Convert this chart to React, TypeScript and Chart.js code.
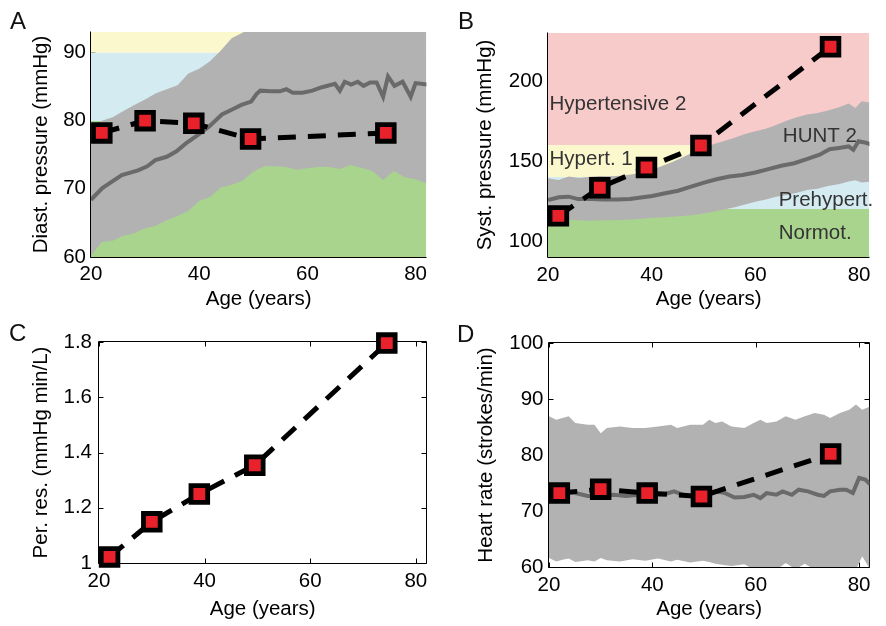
import React, { useEffect, useRef } from 'react';
import { Chart, registerables } from 'chart.js';

Chart.register(...registerables);

const FONT = "'Liberation Sans', Arial, Helvetica, sans-serif";
Chart.defaults.font.family = FONT;
Chart.defaults.font.size = 20.5;
Chart.defaults.color = '#000';

// ---------- data ----------
const groupAges = [22, 30, 39, 49.5, 74.5];
const diastolicModel = [78.2, 80.0, 79.6, 77.3, 78.2];
const systolicModel = [115.7, 133.3, 145.9, 159.7, 221.4];
const resistanceModel = [1.022, 1.149, 1.25, 1.354, 1.796];
const heartRateModel = [73.2, 73.9, 73.2, 72.6, 80.2];

const ageRange = [20, 82];
const diastolicZones = [60, 80, 90, 100];
const systolicZones = [90, 120, 140, 160, 240];

// HUNT 2 diastolic
const huntDiaMeanAges = [20, 22.1, 23.6, 25.7, 28.7, 30.4, 31.9, 34.0, 35.8, 37.6, 39.4, 41.8, 44.2, 46.0, 47.8, 49.6, 50.7, 51.3, 53.1, 54.9, 56.1, 57.3, 59.1, 60.9, 62.7, 65.1, 66.0, 66.9, 68.1, 69.3, 70.4, 71.6, 72.8, 74.0, 74.9, 76.1, 77.6, 79.1, 80.0, 82.2];
const huntDiaMean = [68.4, 70.1, 70.9, 72.0, 72.7, 73.3, 74.2, 74.7, 75.5, 76.7, 77.7, 79.1, 80.9, 81.6, 82.3, 82.8, 84.0, 84.4, 84.3, 84.3, 84.6, 84.1, 84.1, 84.4, 84.9, 85.4, 84.4, 85.7, 85.3, 85.7, 85.1, 85.6, 85.6, 83.5, 86.5, 85.1, 85.7, 83.5, 85.5, 85.3];
const huntDiaBandAges = [20, 22, 24, 26, 28, 30, 32, 34, 36, 38, 40, 42, 44, 46, 48, 50, 52, 54, 56, 58, 60, 62, 64, 66, 68, 70, 72, 74, 76, 78, 80, 82];
const huntDiaUpper = [79.4, 80.0, 80.5, 81.4, 82.3, 83.1, 84.0, 84.6, 85.2, 86.9, 87.6, 88.7, 90.3, 92.1, 92.9, 94, 94.6, 95.0, 95.2, 95.4, 95.5, 95.8, 96, 96, 96.2, 96.2, 96.4, 96.4, 96.5, 96.5, 96.6, 96.6];
const huntDiaLower = [60.2, 62.2, 62.4, 63.1, 63.5, 64.2, 64.6, 65.4, 66.0, 66.8, 68.2, 68.8, 70.2, 70.6, 71.2, 72.5, 73.3, 73.3, 73.2, 72.8, 73.0, 73.2, 73.2, 72.9, 73.5, 73.1, 72.6, 71.3, 72.6, 71.7, 71.4, 70.8];

// HUNT 2 systolic
const huntSysMeanAges = [20, 22.1, 24, 25.8, 28.3, 30.8, 33.3, 35.8, 38.3, 40.1, 42.6, 45.1, 47.6, 50.1, 52.5, 55, 57.5, 60, 62.5, 65, 67.5, 69.9, 72.4, 74.3, 76.1, 78, 78.9, 79.9, 81.1, 82.4];
const huntSysMean = [125.6, 127.3, 127.7, 126.2, 126.2, 126.0, 126.0, 126.2, 127.3, 128.1, 129.8, 131.4, 134.0, 136.5, 138.6, 140.3, 141.3, 142.8, 144.9, 147.0, 148.6, 151.2, 153.9, 157.4, 158.1, 159.1, 157.0, 162.3, 161.6, 160.2];
const huntSysBandAges = [20, 22, 24, 26, 28, 30, 32, 34, 36, 38, 40, 42, 44, 46, 48, 50, 52, 54, 56, 58, 60, 62, 64, 66, 68, 70, 72, 74, 76, 78, 79.3, 80.5, 82];
const huntSysUpper = [139.2, 138.2, 140.3, 139.4, 140.2, 140.7, 140.4, 140.8, 141.6, 142.6, 144.3, 146.8, 149.3, 152.3, 155.4, 158.0, 160.6, 162.5, 164.6, 166.9, 168.6, 170.2, 172.5, 175.1, 177.3, 179.0, 180.0, 181.5, 183.4, 186.0, 183.2, 187.4, 186.6];
const huntSysLower = [113.6, 113.1, 113.3, 113.0, 112.6, 113.0, 113.0, 113.2, 113.5, 113.9, 114.6, 114.7, 115.2, 115.7, 116.2, 117.2, 118.5, 119.7, 121.1, 122.8, 124.5, 125.9, 127.6, 128.8, 130.2, 131.9, 132.7, 134.3, 135.5, 137.2, 138.0, 136.5, 137.0];

// HUNT 2 heart rate
const huntHrMeanAges = [20, 22.6, 25.1, 27.5, 30, 32.5, 34.9, 37.4, 39.9, 42.3, 44.2, 46.0, 47.9, 49.8, 52.2, 54.1, 55.9, 57.8, 59.6, 60.9, 62.1, 64.0, 65.2, 67.0, 68.3, 70.1, 72.0, 73.2, 74.4, 76.3, 77.5, 78.8, 80.0, 81.2, 82.2];
const huntHrMean = [73.8, 73.5, 73.2, 72.7, 72.7, 72.9, 72.7, 72.9, 72.9, 73.0, 73.5, 72.9, 72.6, 72.9, 73.5, 73.2, 72.4, 72.5, 72.9, 72.3, 73.2, 72.9, 73.5, 72.9, 73.8, 73.5, 72.9, 72.7, 73.5, 73.8, 73.8, 73.2, 75.9, 75.6, 74.7];
const huntHrBandAges = [20, 21.4, 22.6, 23.8, 25.1, 27.5, 28.8, 30, 31.2, 33.7, 36.2, 38.6, 41.1, 43.6, 44.8, 47.3, 49.8, 51, 52.2, 53.5, 55.3, 57.8, 59.6, 60.9, 62.1, 64, 65.8, 67.7, 69.5, 71.4, 73.2, 74.4, 76.3, 78.1, 79.4, 80.6, 82.2];
const huntHrUpper = [86.9, 86.3, 86.6, 86.9, 85.7, 85.4, 85.4, 83.9, 84.8, 85.1, 84.8, 84.8, 85.1, 85.4, 84.8, 85.4, 85.4, 86.3, 85.7, 86.0, 85.1, 84.8, 85.7, 86.3, 85.7, 86.0, 86.9, 86.3, 86.9, 87.5, 87.2, 86.6, 87.5, 88.1, 89.0, 88.1, 88.7];
const huntHrLower = [61.6, 61.0, 61.3, 61.5, 60.9, 61.2, 61.0, 61.6, 61.2, 61.0, 61.4, 61.1, 61.5, 61.0, 61.3, 60.8, 61.1, 60.9, 60.6, 60.4, 60.2, 60.5, 59.6, 59.8, 59.4, 59.5, 60.7, 59.6, 60.6, 59.5, 59.4, 59.6, 59.5, 59.6, 59.5, 61.9, 59.5];

const systolicLabels = ['Hypertensive 2', 'Hypert. 1', 'HUNT 2', 'Prehypert.', 'Normot.'];

// ---------- styles ----------
const ZONE_COLORS = ['#a9d48e', '#d3ebf1', '#fbf8cd', '#f8cbcb'];
const BAND_GRAY = '#b2b2b2';
const MEAN_GRAY = '#6a6a6a';
const RED = '#e8212a';
const CLEAR = 'rgba(0,0,0,0)';

const pts = (xs: number[], ys: number[]) => xs.map((x, i) => ({ x, y: ys[i] }));

function modelDataset(values: number[]) {
  return {
    data: pts(groupAges, values),
    borderColor: '#000',
    borderWidth: 5,
    borderDash: [18, 12],
    pointStyle: 'rect',
    pointRadius: 11.8,
    pointHoverRadius: 11.8,
    pointBorderWidth: 4.8,
    pointBackgroundColor: RED,
    pointBorderColor: '#000',
    fill: false,
    tension: 0,
    clip: false as any,
  };
}

function meanDataset(xs: number[], ys: number[]) {
  return {
    data: pts(xs, ys),
    borderColor: MEAN_GRAY,
    borderWidth: 4,
    pointRadius: 0,
    fill: false,
    tension: 0,
  };
}

function bandDatasets(xs: number[], lower: number[], upper: number[]) {
  return [
    { data: pts(xs, lower), borderColor: CLEAR, borderWidth: 0, pointRadius: 0, fill: false },
    { data: pts(xs, upper), borderColor: CLEAR, borderWidth: 0, pointRadius: 0, fill: '-1', backgroundColor: BAND_GRAY },
  ];
}

function zoneDatasets(zones: number[]) {
  const out: any[] = [];
  for (let i = zones.length - 2; i >= 0; i--) {
    out.push({
      data: ageRange.map((x) => ({ x, y: zones[i + 1] })),
      borderColor: CLEAR,
      borderWidth: 0,
      pointRadius: 0,
      fill: { value: zones[i] },
      backgroundColor: ZONE_COLORS[i],
    });
  }
  return out;
}

function framePlugin(box: boolean) {
  return {
    id: 'frame',
    beforeDatasetsDraw(chart: any) {
      const { ctx, chartArea: a, scales } = chart;
      const L = Math.round(a.left) - 0.5;
      const R = Math.round(a.right) + 0.5;
      const T = Math.round(a.top) - 0.5;
      const B = Math.round(a.bottom) + 0.5;
      const tl = 5;
      ctx.save();
      ctx.strokeStyle = '#000';
      ctx.lineWidth = 1;
      ctx.beginPath();
      ctx.moveTo(L, T);
      ctx.lineTo(L, B);
      ctx.lineTo(R, B);
      if (box) {
        ctx.lineTo(R, T);
        ctx.lineTo(L, T);
      }
      scales.x.ticks.forEach((t: any) => {
        const px = Math.round(scales.x.getPixelForValue(t.value)) + 0.5;
        ctx.moveTo(px, B);
        ctx.lineTo(px, B - tl);
        if (box) {
          ctx.moveTo(px, T);
          ctx.lineTo(px, T + tl);
        }
      });
      scales.y.ticks.forEach((t: any) => {
        const py = Math.round(scales.y.getPixelForValue(t.value)) + 0.5;
        ctx.moveTo(L, py);
        ctx.lineTo(L + tl, py);
        if (box) {
          ctx.moveTo(R, py);
          ctx.lineTo(R - tl, py);
        }
      });
      ctx.stroke();
      ctx.restore();
    },
  };
}

const zoneLabelPlugin = {
  id: 'zoneLabels',
  afterDatasetsDraw(chart: any) {
    const { ctx, scales } = chart;
    const anchors = [
      [20.3, 181.6],
      [20.3, 147.2],
      [65.3, 161.6],
      [64.5, 122.0],
      [64.5, 101.1],
    ];
    ctx.save();
    ctx.fillStyle = '#333';
    ctx.font = `20.5px ${FONT}`;
    ctx.textAlign = 'left';
    ctx.textBaseline = 'alphabetic';
    systolicLabels.forEach((txt, i) => {
      ctx.fillText(txt, scales.x.getPixelForValue(anchors[i][0]), scales.y.getPixelForValue(anchors[i][1]));
    });
    ctx.restore();
  },
};

type PanelOpts = {
  datasets: any[];
  yMin: number;
  yMax: number;
  yStep: number;
  yTitle: string;
  yW: number;
  xH: number;
  padT: number;
  padR: number;
  box: boolean;
  xTickPad: number;
  yTickPad: number;
  xTitlePad: number;
  yTitlePad: number;
  extra?: any[];
};

const fmt = (v: number | string) => String(Math.round(Number(v) * 10) / 10);

function makeConfig(o: PanelOpts): any {
  return {
    type: 'line',
    data: { datasets: o.datasets },
    plugins: [framePlugin(o.box), ...(o.extra || [])],
    options: {
      animation: false,
      responsive: false,
      events: [],
      layout: { padding: { left: 0, top: o.padT, right: o.padR, bottom: 0 } },
      plugins: { legend: { display: false }, tooltip: { enabled: false } },
      scales: {
        x: {
          type: 'linear',
          min: ageRange[0],
          max: ageRange[1],
          grid: { display: false, drawTicks: false },
          border: { display: false },
          ticks: { stepSize: 20, includeBounds: false, padding: o.xTickPad, maxRotation: 0, autoSkip: false, color: '#000', callback: fmt },
          title: { display: true, text: 'Age (years)', color: '#000', padding: { top: 0, bottom: o.xTitlePad } },
          afterFit: (s: any) => {
            s.height = o.xH;
            s.paddingLeft = 0;
            s.paddingRight = 0;
          },
        },
        y: {
          type: 'linear',
          min: o.yMin,
          max: o.yMax,
          grid: { display: false, drawTicks: false },
          border: { display: false },
          ticks: { stepSize: o.yStep, includeBounds: false, padding: o.yTickPad, autoSkip: false, color: '#000', callback: fmt },
          title: { display: true, text: o.yTitle, color: '#000', padding: { top: o.yTitlePad, bottom: 0 } },
          afterFit: (s: any) => {
            s.width = o.yW;
            s.paddingTop = 0;
            s.paddingBottom = 0;
          },
        },
      },
    },
  };
}

function Panel({ left, top, config }: { left: number; top: number; config: () => any }) {
  const ref = useRef<HTMLCanvasElement>(null);
  useEffect(() => {
    const chart = new Chart(ref.current as HTMLCanvasElement, config());
    return () => chart.destroy();
  }, []);
  return (
    <canvas
      ref={ref}
      width={443}
      height={313}
      style={{ position: 'absolute', left, top, width: 443, height: 313 }}
    />
  );
}

const configA = () =>
  makeConfig({
    datasets: [
      modelDataset(diastolicModel),
      meanDataset(huntDiaMeanAges, huntDiaMean),
      ...bandDatasets(huntDiaBandAges, huntDiaLower, huntDiaUpper),
      ...zoneDatasets(diastolicZones),
    ],
    yMin: 60,
    yMax: 93,
    yStep: 10,
    yTitle: 'Diast. pressure (mmHg)',
    yW: 91,
    xH: 56,
    padT: 32,
    padR: 4,
    box: false,
    xTickPad: 5,
    yTickPad: 5,
    xTitlePad: 1,
    yTitlePad: 29,
  });

const configB = () =>
  makeConfig({
    datasets: [
      modelDataset(systolicModel),
      meanDataset(huntSysMeanAges, huntSysMean),
      ...bandDatasets(huntSysBandAges, huntSysLower, huntSysUpper),
      ...zoneDatasets(systolicZones),
    ],
    yMin: 90,
    yMax: 230,
    yStep: 50,
    yTitle: 'Syst. pressure (mmHg)',
    yW: 105,
    xH: 56,
    padT: 33,
    padR: 3,
    box: false,
    xTickPad: 6,
    yTickPad: 5,
    xTitlePad: 1,
    yTitlePad: 30,
    extra: [zoneLabelPlugin],
  });

const configC = () =>
  makeConfig({
    datasets: [modelDataset(resistanceModel)],
    yMin: 1,
    yMax: 1.8,
    yStep: 0.2,
    yTitle: 'Per. res. (mmHg min/L)',
    yW: 99,
    xH: 63,
    padT: 29,
    padR: 5,
    box: true,
    xTickPad: 6,
    yTickPad: 7,
    xTitlePad: 4,
    yTitlePad: 29,
  });

const configD = () =>
  makeConfig({
    datasets: [
      modelDataset(heartRateModel),
      meanDataset(huntHrMeanAges, huntHrMean),
      ...bandDatasets(huntHrBandAges, huntHrLower, huntHrUpper),
    ],
    yMin: 60,
    yMax: 100,
    yStep: 10,
    yTitle: 'Heart rate (strokes/min)',
    yW: 106,
    xH: 59,
    padT: 30,
    padR: 1,
    box: true,
    xTickPad: 6,
    yTickPad: 5.5,
    xTitlePad: 4,
    yTitlePad: 31,
  });

const letterStyle = (left: number, top: number): React.CSSProperties => ({
  position: 'absolute',
  left,
  top,
  fontFamily: FONT,
  fontSize: 24,
  lineHeight: '24px',
  color: '#111',
  margin: 0,
});

export default function App() {
  return (
    <div style={{ position: 'absolute', left: 0, top: 0, width: 886, height: 626, background: '#fff', overflow: 'hidden' }}>
      <Panel left={0} top={0} config={configA} />
      <Panel left={443} top={0} config={configB} />
      <Panel left={0} top={313} config={configC} />
      <Panel left={443} top={313} config={configD} />
      <div style={letterStyle(10, 9)}>A</div>
      <div style={letterStyle(458, 9)}>B</div>
      <div style={letterStyle(9, 321)}>C</div>
      <div style={letterStyle(457, 322)}>D</div>
    </div>
  );
}
